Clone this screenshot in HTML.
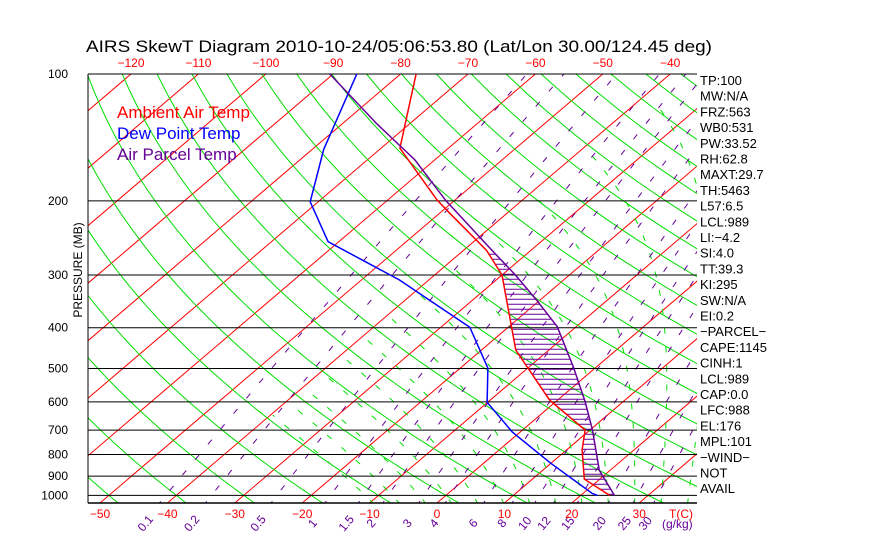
<!DOCTYPE html>
<html><head><meta charset="utf-8"><style>
html,body{margin:0;padding:0;background:#fff;}
svg{display:block;}
text{font-family:"Liberation Sans",sans-serif;}
</style></head><body>
<svg id="chart" width="870" height="560" viewBox="0 0 870 560" xmlns="http://www.w3.org/2000/svg">
<defs><clipPath id="plotclip"><rect x="88" y="74" width="609" height="429"/></clipPath></defs>
<text x="86" y="52" font-size="17" textLength="626" lengthAdjust="spacingAndGlyphs" fill="#000">AIRS SkewT Diagram 2010-10-24/05:06:53.80 (Lat/Lon 30.00/124.45 deg)</text>
<g id="grid" clip-path="url(#plotclip)"></g>
<g id="axes"></g>
<g id="profiles" clip-path="url(#plotclip)"></g>
<g id="labels"></g>
<text transform="translate(82,270) rotate(-90)" text-anchor="middle" font-size="12" fill="#000">PRESSURE (MB)</text>
<text x="117" y="118" font-size="17" fill="#ff0000">Ambient Air Temp</text>
<text x="117" y="139" font-size="17" fill="#0000ff">Dew Point Temp</text>
<text x="117" y="160" font-size="17" fill="#660099">Air Parcel Temp</text>
</svg>
<script>
// ---- data ----
const pressureTicks = [100,200,300,400,500,600,700,800,900,1000];
const bottomTempTicks = [-50,-40,-30,-20,-10,0,10,20,30];
const topTempTicks = [-120,-110,-100,-90,-80,-70,-60,-50,-40];
const mixingRatios = [0.1,0.2,0.5,1,1.5,2,3,4,6,8,10,12,15,20,25,30];
const tempP = [100,150,199,214,262,300,452,594,700,780,915,1000];
const tempT = [-77.7,-67.2,-52.7,-48.5,-36.6,-30,-14.9,-1.2,9.3,12.3,17.7,24.3];
const dewP = [100,151,201,250,308,399,499,601,707,837,990,1000];
const dewT = [-86.5,-78.3,-71.2,-61.6,-44.4,-25.7,-15.9,-10.1,-1.2,9.8,21.4,22.5];
const parcelP = [100,131,160,200,262,300,344,398,496,600,700,872,1000];
const parcelT = [-90.5,-75,-62.9,-51.2,-35.8,-28,-20.5,-12.8,-3.4,4.4,10.4,18.4,25];
const sideLabels = ["TP:100","MW:N/A","FRZ:563","WB0:531","PW:33.52","RH:62.8","MAXT:29.7","TH:5463","L57:6.5","LCL:989","LI:\u22124.2","SI:4.0","TT:39.3","KI:295","SW:N/A","EI:0.2","\u2212PARCEL\u2212","CAPE:1145","CINH:1","LCL:989","CAP:0.0","LFC:988","EL:176","MPL:101","\u2212WIND\u2212","NOT","AVAIL"];

// ---- axes ----
const L=88,R=697,T=74,B=503;
const yScale = p => T + 183*Math.log(p/100);
const pOfY = y => 100*Math.exp((y-T)/183);
const xScale = (t,y) => 437 + 6.74*t + 1.172*(B-y);
const NS='http://www.w3.org/2000/svg';
function mk(tag,attrs,parent){const e=document.createElementNS(NS,tag);for(const k in attrs)e.setAttribute(k,attrs[k]);parent.appendChild(e);return e;}
const grid=document.getElementById('grid'),axes=document.getElementById('axes'),prof=document.getElementById('profiles'),lab=document.getElementById('labels');
function pathFrom(pts){return pts.map((q,i)=>(i?'L':'M')+q[0].toFixed(1)+' '+q[1].toFixed(1)).join('');}

// isotherms
for(let t=-160;t<=60;t+=10){
  const e=mk('line',{x1:xScale(t,B),y1:B,x2:xScale(t,T),y2:T,stroke:'#ff0000','stroke-width':1},grid);
  
  
}
// dry adiabats
for(let th=-60;th<=220;th+=10){
  const pts=[];
  for(let p=1050;p>=95;p-=10){const tk=(th+273.15)*Math.pow(p/1000,0.2857)-273.15;pts.push([xScale(tk,yScale(p)),yScale(p)]);}
  const e=mk('path',{d:pathFrom(pts),fill:'none',stroke:'#00dd00','stroke-width':1},grid);
  
  
}
// moist adiabats (drawn only where T > -40 C)
function es(t){return 6.112*Math.exp(17.67*t/(t+243.5));}
const step=(p,t,dp)=>{const tk=t+273.15,rs=0.622*es(t)/(p-es(t));const num=287*tk+2.5e6*rs;const den=1004+2.5e6*2.5e6*rs*0.622/(287*tk*tk);return t+dp*num/(p*den);};
for(let t0=-12;t0<=44;t0+=4){
  let tt=t0;for(let q=1000;q<1050;q+=5){tt=step(q,tt,5);}
  let p=1050,t=tt;const pts=[];
  while(p>=100&&t>-40){pts.push([xScale(t,yScale(p)),yScale(p)]);t=step(p,t,-5);p-=5;}
  if(pts.length<2)continue;
  const e=mk('path',{d:pathFrom(pts),fill:'none',stroke:'#00dd00','stroke-width':1,'stroke-dasharray':'6 13'},grid);
  
  
}
// mixing ratio lines
function tdOf(w,p){const e=w*p/(622+w);const a=Math.log(e/6.112);return 243.5*a/(17.67-a);}
mixingRatios.forEach(w=>{
  const pts=[];for(let p=1060;p>=100;p-=10)pts.push([xScale(tdOf(w,p),yScale(p)),yScale(p)]);
  const e=mk('path',{d:pathFrom(pts),fill:'none',stroke:'#660099','stroke-width':1,'stroke-dasharray':'6 14'},grid);
  
  
  const ly=522,lx=xScale(tdOf(w,pOfY(ly)),ly);
  const t=mk('text',{x:lx,y:ly+6,'font-size':12,fill:'#660099','text-anchor':'middle',transform:`rotate(-50 ${lx} ${ly})`},lab);
  t.textContent=w;
  
  
});
{const t=mk('text',{x:662,y:528,'font-size':12,fill:'#660099'},lab);t.textContent='(g/kg)';

}
// pressure lines & labels
pressureTicks.forEach(p=>{
  const y=yScale(p);
  const e=mk('line',{x1:L,y1:y,x2:R,y2:y,stroke:'#000','stroke-width':1},axes);
  
  
  const t=mk('text',{x:68,y:y+4,'font-size':12,fill:'#000','text-anchor':'end'},lab);
  t.textContent=p;
  
  
});
{const b=mk('line',{x1:L,y1:B,x2:R,y2:B,stroke:'#000','stroke-width':1.5},axes);


const l=mk('line',{x1:L,y1:T,x2:L,y2:B,stroke:'#000','stroke-width':1},axes);

}
bottomTempTicks.forEach(t=>{
  const e=mk('text',{x:xScale(t,B),y:518,'font-size':12,fill:'#ff0000','text-anchor':'middle'},lab);
  e.textContent=t<0?'\u2212'+(-t):t;
  
  
});
{const e=mk('text',{x:681,y:518,'font-size':12,fill:'#ff0000','text-anchor':'middle'},lab);e.textContent='T(C)';

}
topTempTicks.forEach(t=>{
  const e=mk('text',{x:xScale(t,T),y:67,'font-size':12,fill:'#ff0000','text-anchor':'middle'},lab);
  e.textContent='\u2212'+(-t);
  
  
});
sideLabels.forEach((s,i)=>{
  const e=mk('text',{x:700,y:85+i*15.7,'font-size':13,fill:'#000'},lab);
  e.textContent=s;
  
  
});
// profiles
function interpT(P,Tt,p){for(let i=0;i<P.length-1;i++){if(p>=P[i]&&p<=P[i+1]){const f=Math.log(p/P[i])/Math.log(P[i+1]/P[i]);return Tt[i]+f*(Tt[i+1]-Tt[i]);}}return null;}
for(let y=yScale(262)+4;y<yScale(1000);y+=5){
  const p=pOfY(y),ta=interpT(tempP,tempT,p),tp=interpT(parcelP,parcelT,p);
  if(ta!==null&&tp!==null&&tp>ta){
    const e=mk('line',{x1:xScale(ta,y),y1:y,x2:xScale(tp,y),y2:y,stroke:'#660099','stroke-width':1},prof);
    
    
  }
}
function series(P,Tt,color,name,w){
  const e=mk('path',{d:pathFrom(P.map((p,i)=>[xScale(Tt[i],yScale(p)),yScale(p)])),fill:'none',stroke:color,'stroke-width':w},prof);
  
  
}
series(dewP,dewT,'#0000ff','dew-point-line',1.5);
series(tempP,tempT,'#ff0000','ambient-temp-line',1.5);
series(parcelP,parcelT,'#660099','parcel-temp-line',1.5);
</script>
</body></html>
